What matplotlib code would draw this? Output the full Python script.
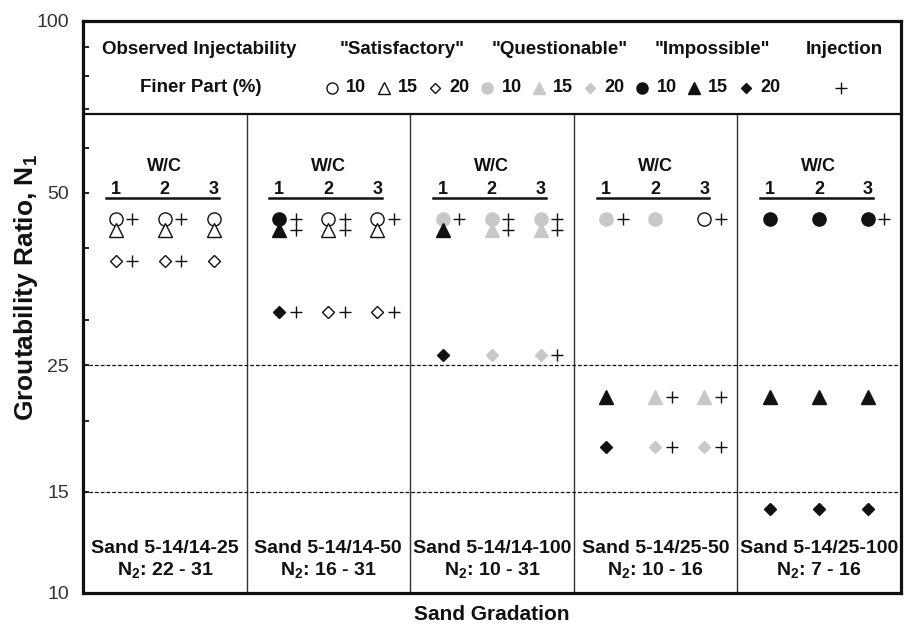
import matplotlib
matplotlib.use('Agg')
import matplotlib.pyplot as plt
from matplotlib.ticker import FixedLocator, FixedFormatter, NullFormatter

plt.rcParams['font.family'] = ['Liberation Sans', 'DejaVu Sans']
plt.rcParams['mathtext.fontset'] = 'custom'
plt.rcParams['mathtext.rm'] = 'Liberation Sans:bold'
plt.rcParams['mathtext.it'] = 'Liberation Sans:bold'
plt.rcParams['mathtext.bf'] = 'Liberation Sans:bold'

# ---------------- data ----------------
sands = ["Sand 5-14/14-25", "Sand 5-14/14-50", "Sand 5-14/14-100",
         "Sand 5-14/25-50", "Sand 5-14/25-100"]
n2_ranges = ["22 - 31", "16 - 31", "10 - 31", "10 - 16", "7 - 16"]
wc_ratios = [1, 2, 3]
fines = [10, 15, 20]

# groutability ratio N1 of each sand for each finer-part content
n1_fines10 = [45, 45, 45, 45, 45]
n1_fines15 = [43, 43, 43, 22, 22]
n1_fines20 = [38, 31, 26, 18, 14]

# observed injectability per sand (rows) and W/C (columns)
# S = "Satisfactory", Q = "Questionable", I = "Impossible"
status_fines10 = [["S", "S", "S"], ["I", "S", "S"], ["Q", "Q", "Q"], ["Q", "Q", "S"], ["I", "I", "I"]]
status_fines15 = [["S", "S", "S"], ["I", "S", "S"], ["I", "Q", "Q"], ["I", "Q", "Q"], ["I", "I", "I"]]
status_fines20 = [["S", "S", "S"], ["I", "S", "S"], ["I", "Q", "Q"], ["I", "Q", "Q"], ["I", "I", "I"]]

# injection (+) observed
inject_fines10 = [[1, 1, 0], [1, 1, 1], [1, 1, 1], [1, 0, 1], [0, 0, 1]]
inject_fines15 = [[0, 0, 0], [1, 1, 0], [0, 1, 1], [0, 1, 1], [0, 0, 0]]
inject_fines20 = [[1, 1, 0], [1, 1, 1], [0, 0, 1], [0, 1, 1], [0, 0, 0]]

y_ticks = [10, 15, 25, 50, 100]
y_minor = [20, 30, 40, 60, 70, 80, 90]
dashed_levels = [25, 15]

status_names = ['"Satisfactory"', '"Questionable"', '"Impossible"']

# ---------------- styles ----------------
BLK = '#111111'
GRY = '#c8c8c8'
shape = {10: 'o', 15: '^', 20: 'D'}
msize = {10: 9.5, 15: 10.5, 20: 6.5}
lsize = {10: 8, 15: 8.5, 20: 4.8}
face = {'S': 'white', 'Q': GRY, 'I': BLK}
edge = {'S': BLK, 'Q': GRY, 'I': BLK}

fig = plt.figure(figsize=(9.05, 6.27), dpi=100)
ax = fig.add_axes([83 / 905, 1 - 592.7 / 627, 817.7 / 905, 572 / 627])
ax.set_yscale('log')
ax.set_xlim(0, 5)
ax.set_ylim(10, 100)

for s in ax.spines.values():
    s.set_linewidth(2.3)
    s.set_color(BLK)

ax.set_xticks([])
ax.yaxis.set_major_locator(FixedLocator(y_ticks))
ax.yaxis.set_major_formatter(FixedFormatter([str(t) for t in y_ticks]))
ax.yaxis.set_minor_locator(FixedLocator(y_minor))
ax.yaxis.set_minor_formatter(NullFormatter())
ax.tick_params(axis='y', which='both', direction='in', length=4, width=1.2,
               labelsize=14, labelcolor='#333333', pad=10)

# header separator and panel dividers
sep = 68.8
ax.plot([0, 5], [sep, sep], color=BLK, lw=1.6, zorder=3)
for i in range(1, len(sands)):
    ax.plot([i, i], [10, sep], color='#333333', lw=1.0, zorder=2)
for lev in dashed_levels:
    ax.plot([0, 5], [lev, lev], color=BLK, lw=0.9, ls=(0, (3, 1.6)), zorder=2)

n1_all = {10: n1_fines10, 15: n1_fines15, 20: n1_fines20}
st_all = {10: status_fines10, 15: status_fines15, 20: status_fines20}
inj_all = {10: inject_fines10, 15: inject_fines15, 20: inject_fines20}

offs = [0.2, 0.5, 0.8]
for i, sand in enumerate(sands):
    # W/C header
    ax.text(i + 0.5, 55.6, 'W/C', ha='center', va='center', fontsize=13,
            fontweight='bold', color=BLK)
    for j, wc in enumerate(wc_ratios):
        ax.text(i + offs[j], 50.6, str(wc), ha='center', va='center',
                fontsize=13, fontweight='bold', color=BLK)
    ax.plot([i + 0.14, i + 0.83], [48.9, 48.9], color=BLK, lw=1.8)
    # points
    for f in fines:
        for j in range(len(wc_ratios)):
            st = st_all[f][i][j]
            x = i + offs[j]
            y = n1_all[f][i]
            ax.plot(x, y, marker=shape[f], ms=msize[f], mfc=face[st],
                    mec=edge[st], mew=1.0, ls='none', zorder=4)
            if inj_all[f][i][j]:
                ax.plot(x + 0.1, y, marker='+', ms=9, mew=1.0, color=BLK,
                        ls='none', zorder=4)
    # bottom labels
    ax.text(i + 0.5, 11.97, sand, ha='center', va='center', fontsize=14,
            fontweight='bold', color=BLK)
    ax.text(i + 0.5, 10.96, 'N$_2$: ' + n2_ranges[i], ha='center', va='center',
            fontsize=14, fontweight='bold', color=BLK)

# legend block
hy, ly = 88.9, 76.3
ax.text(0.71, hy, 'Observed Injectability', ha='center', va='center',
        fontsize=13.5, fontweight='bold', color=BLK)
ax.text(0.722, ly, 'Finer Part (%)', ha='center', va='center',
        fontsize=13.5, fontweight='bold', color=BLK)
for x, name in zip([1.952, 2.913, 3.846], status_names):
    ax.text(x, hy, name, ha='center', va='center', fontsize=13.5,
            fontweight='bold', color=BLK)
ax.text(4.657, hy, 'Injection', ha='center', va='center', fontsize=13.5,
        fontweight='bold', color=BLK)
ax.plot(4.633, ly, marker='+', ms=9, mew=1.0, color=BLK, ls='none')

x0, step = 1.522, 0.3162
k = 0
for st in ['S', 'Q', 'I']:
    for f in fines:
        x = x0 + k * step
        ax.plot(x, ly, marker=shape[f], ms=lsize[f], mfc=face[st], mec=edge[st],
                mew=1.0, ls='none')
        ax.text(x + 0.088, ly, str(f), ha='left', va='center', fontsize=13,
                fontweight='bold', color=BLK)
        k += 1

fig.text(26 / 905, 1 - 288 / 627, 'Groutability Ratio, N$_1$', rotation=90,
         ha='center', va='center', fontsize=19, fontweight='bold', color=BLK)
fig.text(491.5 / 905, 1 - 615 / 627, 'Sand Gradation', ha='center', va='center',
         fontsize=15, fontweight='bold', color=BLK)

fig.savefig('out.png', dpi=100)
